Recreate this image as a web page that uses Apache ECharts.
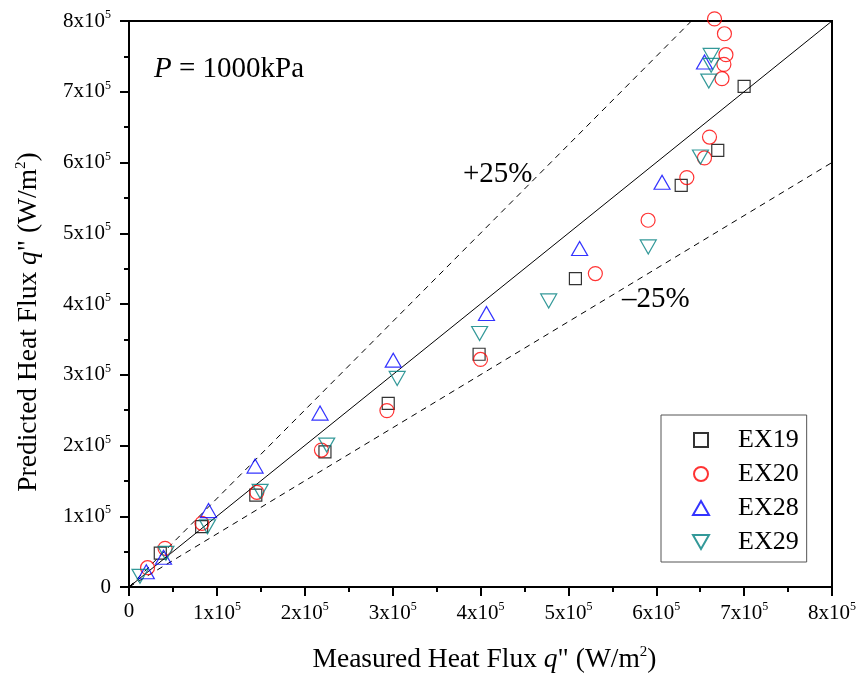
<!DOCTYPE html>
<html><head><meta charset="utf-8">
<script src="https://cdn.jsdelivr.net/npm/echarts@6/dist/echarts.min.js"></script>
<style>html,body{margin:0;padding:0;background:#fff}#c{width:860px;height:686px}</style>
</head><body><div id="c"></div>
<script>
// ---- data ----
const seriesNames = ['EX19', 'EX20', 'EX28', 'EX29'];
const ex19X = [35600, 82700, 144300, 223000, 295000, 398400, 508000, 628400, 670000, 700000];
const ex19Y = [48000, 85200, 130000, 191000, 259500, 329000, 436000, 567800, 617200, 707600];
const ex20X = [21100, 41000, 83000, 145500, 219000, 293500, 400000, 530700, 590700, 634800, 654900, 660600, 674800, 677000, 679300, 677600, 666300];
const ex20Y = [27300, 54700, 90000, 133800, 193500, 249300, 321600, 443000, 518400, 578700, 606400, 636000, 718500, 738700, 752400, 782000, 803000];
const ex28X = [19700, 39300, 90500, 143500, 217400, 300700, 406800, 512800, 606600, 654900];
const ex28Y = [21600, 42000, 108000, 170900, 245800, 320600, 386600, 478400, 572000, 742000];
const ex29X = [12500, 42000, 89300, 149200, 225000, 305200, 399000, 477600, 590900, 650300, 659800, 662500, 662500];
const ex29Y = [15100, 47600, 85200, 135200, 200600, 294800, 358300, 404400, 480700, 607800, 715100, 737300, 751400];
// reference lines (exact agreement and +/-25 %)
const lineExact = [[0, 0], [800000, 800000]];
const linePlus25 = [[0, 0], [640000, 800000]];
const lineMinus25 = [[0, 0], [800000, 600000]];
// tick labels
const tickBases = ['0', '1x10', '2x10', '3x10', '4x10', '5x10', '6x10', '7x10', '8x10'];
const tickExp = '5';

const FONT = '"Liberation Serif", "Times New Roman", serif';
const zip = (xs, ys) => xs.map((x, i) => [x, ys[i]]);

function tickFmt(v) {
  const i = Math.round(v / 100000);
  if (i === 0) return '{a|0}';
  return '{a|' + tickBases[i] + '}{s|' + tickExp + '}';
}
const tickRich = {
  a: { fontFamily: FONT, fontSize: 21, color: '#000' },
  s: { fontFamily: FONT, fontSize: 12, color: '#000', padding: [0, 0, 12, 0] }
};
const NS = 27.5;
const nameRich = {
  n: { fontFamily: FONT, fontSize: NS, color: '#000' },
  i: { fontFamily: FONT, fontSize: NS, color: '#000', fontStyle: 'italic' },
  s: { fontFamily: FONT, fontSize: 15, color: '#000', padding: [0, 0, 14, 0] }
};

const SQUARE = 'path://M0,0L10,0L10,10L0,10Z';
const DOWN_TRI = 'path://M0,0L20,0L10,17.32Z';
const UP_TRI = 'path://M10,0L20,17.32L0,17.32Z';

function scatter(name, data, symbol, size, color) {
  return {
    name, type: 'scatter', data, symbol, symbolSize: size, clip: false,
    itemStyle: { color: 'rgba(0,0,0,0)', borderColor: color, borderWidth: 1.2 },
    emphasis: { disabled: true }, z: 5
  };
}
function refLine(data, dashed) {
  return {
    type: 'line', data, symbol: 'none', silent: true,
    lineStyle: { color: '#000', width: 1, type: dashed ? [6, 5] : 'solid' }, z: 3
  };
}

const chart = echarts.init(document.getElementById('c'), null, { renderer: 'canvas' });
chart.setOption({
  animation: false,
  backgroundColor: '#fff',
  grid: { left: 129, right: 28, top: 21, bottom: 99, show: true, borderColor: '#000', borderWidth: 2, backgroundColor: 'transparent' },
  xAxis: {
    type: 'value', min: 0, max: 800000, interval: 100000,
    axisLine: { show: true, lineStyle: { color: '#000', width: 2 } },
    axisTick: { show: true, length: 9, lineStyle: { color: '#000', width: 2 } },
    minorTick: { show: true, splitNumber: 2, length: 5, lineStyle: { color: '#000', width: 2 } },
    splitLine: { show: false },
    axisLabel: { formatter: tickFmt, rich: tickRich, margin: 14 },
    name: '{n|Measured Heat Flux }{i|q}{n|" (W/m}{s|2}{n|)}',
    nameLocation: 'middle', nameGap: 58,
    nameTextStyle: { rich: nameRich, padding: [0, 0, 0, 8] }
  },
  yAxis: {
    type: 'value', min: 0, max: 800000, interval: 100000,
    axisLine: { show: true, lineStyle: { color: '#000', width: 2 } },
    axisTick: { show: true, length: 9, lineStyle: { color: '#000', width: 2 } },
    minorTick: { show: true, splitNumber: 2, length: 5, lineStyle: { color: '#000', width: 2 } },
    splitLine: { show: false },
    axisLabel: { formatter: tickFmt, rich: tickRich, margin: 18 },
    name: '{n|Predicted Heat Flux }{i|q}{n|" (W/m}{s|2}{n|)}',
    nameLocation: 'middle', nameGap: 86,
    nameTextStyle: { rich: nameRich, padding: [0, 36, 0, 0] }
  },
  legend: {
    orient: 'vertical', left: 661, top: 415,
    data: seriesNames,
    itemWidth: 16, itemHeight: 14, itemGap: 8,
    padding: [12, 8, 7, 31],
    borderColor: '#555', borderWidth: 1,
    textStyle: { fontFamily: FONT, fontSize: 26, color: '#000', lineHeight: 26, padding: [0, 0, 0, 24] }
  },
  graphic: [
    { type: 'text', left: 154, top: 55, style: { text: '{i|P}{n| = 1000kPa}', rich: {
      i: { fontFamily: FONT, fontSize: 29, fontStyle: 'italic', fill: '#000' },
      n: { fontFamily: FONT, fontSize: 29, fill: '#000' } } } },
    { type: 'text', left: 463, top: 160, style: { text: '+25%', fontFamily: FONT, fontSize: 29, fill: '#000' } },
    { type: 'text', left: 622, top: 285, style: { text: '\u201325%', fontFamily: FONT, fontSize: 29, fill: '#000' } }
  ],
  series: [
    refLine(lineExact, false),
    refLine(linePlus25, true),
    refLine(lineMinus25, true),
    scatter('EX19', zip(ex19X, ex19Y), SQUARE, 12, '#000'),
    scatter('EX20', zip(ex20X, ex20Y), 'circle', 14, '#ff0000'),
    scatter('EX28', zip(ex28X, ex28Y), UP_TRI, [16, 14], '#0000ff'),
    scatter('EX29', zip(ex29X, ex29Y), DOWN_TRI, [16, 14], '#008080')
  ]
});
</script></body></html>
